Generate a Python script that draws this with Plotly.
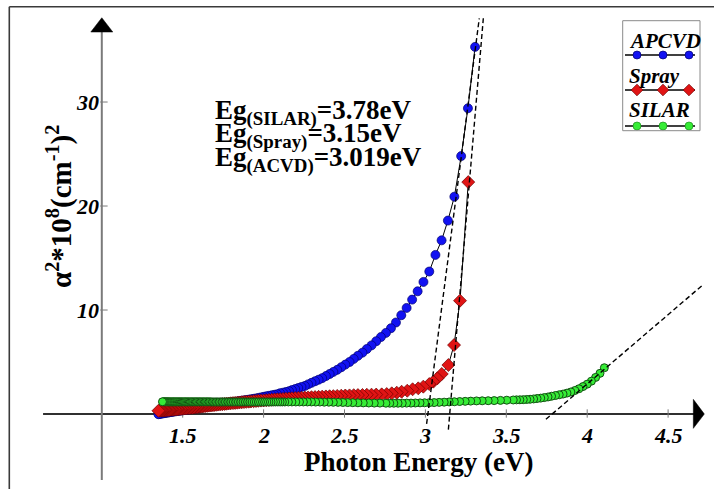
import plotly.graph_objects as go

# ---------------- data ----------------
E_apcvd = [3.307, 3.263, 3.221, 3.179, 3.139, 3.100, 3.062, 3.024, 2.988, 2.952,
           2.918, 2.884, 2.851, 2.818, 2.787, 2.756, 2.725, 2.696, 2.667, 2.638,
           2.611, 2.583, 2.557, 2.531, 2.505, 2.480, 2.455, 2.431, 2.408, 2.385,
           2.362, 2.340, 2.318, 2.296, 2.275, 2.255, 2.234, 2.214, 2.195, 2.175,
           2.157, 2.138, 2.120, 2.102, 2.084, 2.067, 2.050, 2.033, 2.016, 2.000,
           1.984, 1.968, 1.953, 1.938, 1.922, 1.908, 1.893, 1.879, 1.865, 1.851,
           1.838, 1.824, 1.811, 1.797, 1.784, 1.771, 1.759, 1.746, 1.734, 1.722,
           1.710, 1.698, 1.687, 1.675, 1.664, 1.653, 1.642, 1.631, 1.621, 1.610,
           1.600, 1.590, 1.580, 1.570, 1.560, 1.550, 1.540, 1.531, 1.521, 1.512,
           1.503, 1.494, 1.485, 1.476, 1.468, 1.459, 1.451, 1.442, 1.434, 1.426,
           1.418, 1.410, 1.402, 1.394, 1.387, 1.379, 1.371, 1.364, 1.357, 1.350]
A_apcvd = [35.3, 29.4, 24.8, 20.9, 18.6, 16.7, 15.3, 13.7, 12.7, 11.8,
           11.0, 10.2, 9.5, 8.8, 8.25, 7.8, 7.4, 7.0, 6.6, 6.25,
           5.9, 5.6, 5.3, 5.0, 4.75, 4.5, 4.25, 4.05, 3.85, 3.65,
           3.45, 3.3, 3.15, 3.0, 2.85, 2.7, 2.6, 2.5, 2.4, 2.3,
           2.2, 2.12, 2.05, 2.0, 1.9, 1.85, 1.8, 1.75, 1.7, 1.65,
           1.6, 1.55, 1.5, 1.46, 1.42, 1.38, 1.35, 1.31, 1.28, 1.24,
           1.2, 1.17, 1.13, 1.1, 1.06, 1.03, 1.0, 0.97, 0.94, 0.91,
           0.88, 0.85, 0.82, 0.79, 0.76, 0.73, 0.7, 0.67, 0.65, 0.62,
           0.6, 0.57, 0.55, 0.52, 0.5, 0.48, 0.45, 0.43, 0.41, 0.39,
           0.37, 0.35, 0.33, 0.31, 0.29, 0.27, 0.25, 0.23, 0.21, 0.19,
           0.17, 0.15, 0.13, 0.11, 0.09, 0.07, 0.05, 0.03, 0.01, -0.02]

E_spray = [3.265, 3.214, 3.177, 3.142, 3.101, 3.074, 3.049, 3.024, 2.987, 2.956,
           2.921, 2.888, 2.853, 2.823, 2.792, 2.761, 2.730, 2.696, 2.667, 2.638,
           2.611, 2.583, 2.557, 2.531, 2.505, 2.480, 2.455, 2.431, 2.408, 2.385,
           2.362, 2.340, 2.318, 2.296, 2.275, 2.255, 2.234, 2.214, 2.195, 2.175,
           2.157, 2.138, 2.120, 2.102, 2.084, 2.067, 2.050, 2.033, 2.016, 2.000,
           1.984, 1.968, 1.953, 1.938, 1.922, 1.908, 1.893, 1.879, 1.865, 1.851,
           1.838, 1.824, 1.811, 1.797, 1.784, 1.771, 1.759, 1.746, 1.734, 1.722,
           1.710, 1.698, 1.687, 1.675, 1.664, 1.653, 1.642, 1.631, 1.621, 1.610,
           1.600, 1.590, 1.580, 1.570, 1.560, 1.550, 1.540, 1.531, 1.521, 1.512,
           1.503, 1.494, 1.485, 1.476, 1.468, 1.459, 1.451, 1.442, 1.434, 1.426,
           1.418, 1.410, 1.402, 1.394, 1.387, 1.379, 1.371, 1.364, 1.357, 1.350]
A_spray = [22.3, 10.9, 6.63, 4.71, 3.85, 3.43, 3.11, 2.88, 2.63, 2.47,
           2.38, 2.24, 2.14, 2.05, 1.99, 1.92, 1.89, 1.87, 1.86, 1.85,
           1.83, 1.82, 1.81, 1.79, 1.78, 1.76, 1.74, 1.72, 1.71, 1.69,
           1.67, 1.65, 1.63, 1.62, 1.6, 1.58, 1.56, 1.55, 1.53, 1.51,
           1.49, 1.47, 1.45, 1.43, 1.41, 1.39, 1.37, 1.35, 1.33, 1.31,
           1.29, 1.27, 1.25, 1.23, 1.21, 1.19, 1.17, 1.15, 1.13, 1.11,
           1.09, 1.07, 1.05, 1.03, 1.01, 0.99, 0.97, 0.95, 0.93, 0.91,
           0.89, 0.87, 0.85, 0.83, 0.81, 0.79, 0.77, 0.75, 0.73, 0.71,
           0.69, 0.67, 0.65, 0.63, 0.61, 0.6, 0.58, 0.57, 0.55, 0.54,
           0.52, 0.51, 0.5, 0.48, 0.47, 0.46, 0.45, 0.43, 0.42, 0.41,
           0.4, 0.39, 0.38, 0.37, 0.36, 0.35, 0.34, 0.33, 0.32, 0.31]

E_silar = [4.106, 4.079, 4.052, 4.026, 4.000, 3.974, 3.949, 3.924, 3.899, 3.875,
           3.851, 3.827, 3.804, 3.780, 3.758, 3.735, 3.713, 3.690, 3.669, 3.647,
           3.626, 3.605, 3.584, 3.563, 3.543, 3.503, 3.464, 3.425, 3.388, 3.351,
           3.316, 3.280, 3.246, 3.212, 3.179, 3.147, 3.116, 3.085, 3.054, 3.024,
           2.995, 2.967, 2.938, 2.911, 2.884, 2.857, 2.831, 2.805, 2.780, 2.756,
           2.719, 2.684, 2.650, 2.616, 2.583, 2.551, 2.520, 2.490, 2.460, 2.431,
           2.403, 2.375, 2.348, 2.322, 2.296, 2.271, 2.246, 2.222, 2.199, 2.175,
           2.153, 2.131, 2.116,
           2.102, 2.088, 2.074, 2.060, 2.046, 2.033, 2.020, 2.006, 1.994, 1.981,
           1.968, 1.956, 1.944, 1.931, 1.920, 1.908, 1.896, 1.884, 1.873, 1.862,
           1.851, 1.840, 1.829, 1.818, 1.808, 1.797, 1.787, 1.777, 1.766, 1.756,
           1.746, 1.737, 1.727, 1.717, 1.708, 1.699, 1.689, 1.680, 1.671, 1.662,
           1.653, 1.645, 1.636, 1.627, 1.619, 1.610, 1.602, 1.594, 1.586, 1.578,
           1.570, 1.562, 1.554, 1.546, 1.538, 1.531, 1.523, 1.516, 1.509, 1.501,
           1.494, 1.487, 1.480, 1.473, 1.466, 1.459, 1.452, 1.445, 1.439, 1.432,
           1.425, 1.419, 1.412, 1.406, 1.400, 1.393, 1.387, 1.381, 1.375]
A_silar = [4.45, 3.91, 3.52, 3.16, 2.87, 2.64, 2.43, 2.26, 2.12, 2.01,
           1.92, 1.85, 1.78, 1.71, 1.64, 1.58, 1.53, 1.49, 1.45, 1.42,
           1.4, 1.38, 1.37, 1.36, 1.35, 1.33, 1.31, 1.29, 1.28, 1.27,
           1.26, 1.24, 1.22, 1.2, 1.18, 1.16, 1.14, 1.12, 1.1, 1.09,
           1.08, 1.07, 1.06, 1.05, 1.05, 1.04, 1.04, 1.04, 1.04, 1.04,
           1.05, 1.05, 1.06, 1.07, 1.08, 1.09, 1.1, 1.11, 1.12, 1.13,
           1.14, 1.14, 1.15, 1.15, 1.16, 1.16, 1.16, 1.16, 1.16, 1.16,
           1.16, 1.16, 1.16,
           1.16, 1.16, 1.16, 1.16, 1.16, 1.16, 1.16, 1.16, 1.16, 1.16,
           1.16, 1.16, 1.16, 1.16, 1.16, 1.16, 1.16, 1.16, 1.16, 1.16,
           1.16, 1.16, 1.16, 1.16, 1.16, 1.16, 1.16, 1.16, 1.16, 1.16,
           1.16, 1.16, 1.16, 1.16, 1.16, 1.16, 1.16, 1.16, 1.17, 1.17,
           1.17, 1.17, 1.17, 1.17, 1.17, 1.17, 1.17, 1.17, 1.17, 1.17,
           1.17, 1.17, 1.17, 1.17, 1.17, 1.17, 1.17, 1.17, 1.17, 1.17,
           1.17, 1.17, 1.17, 1.17, 1.17, 1.17, 1.17, 1.17, 1.17, 1.17,
           1.17, 1.17, 1.17, 1.18, 1.18, 1.18, 1.18, 1.18, 1.18]

# tangent (extrapolation) lines
TAN_APCVD_X = [3.0075, 3.333]
TAN_APCVD_Y = [-0.95, 38.05]
TAN_SPRAY_X = [3.142, 3.358]
TAN_SPRAY_Y = [-1.5, 38.05]
TAN_SILAR_X = [3.745, 4.721]
TAN_SILAR_Y = [-0.51, 12.5]

X_TICKS = [1.5, 2, 2.5, 3, 3.5, 4, 4.5]
X_TICK_LABELS = ["1.5", "2", "2.5", "3", "3.5", "4", "4.5"]
Y_TICKS = [10, 20, 30]
Y_TICK_LABELS = ["10", "20", "30"]

SERIES_NAMES = ["APCVD", "Spray", "SILAR"]
EG_LINES = [("SILAR", "3.78"), ("Spray", "3.15"), ("ACVD", "3.019")]

X_ORIGIN = 1.0
Y_ORIGIN = 0.0

# ---------------- styling ----------------
FONT = "Liberation Serif"
BLUE, BLUE_EDGE = "#1212f2", "#000070"
RED, RED_EDGE = "#e01414", "#6e0000"
GREEN, GREEN_EDGE = "#36ec36", "#125012"
W, H = 714, 489
XR = [0.3708, 4.7837]
YR = [-7.21, 39.81]

fig = go.Figure()

def add_series(x, y, symbol, size, color, edge, ew):
    fig.add_trace(go.Scatter(
        x=x, y=y, mode="lines+markers", showlegend=False, hoverinfo="skip",
        line=dict(color="black", width=1),
        marker=dict(symbol=symbol, size=size, color=color,
                    line=dict(color=edge, width=ew))))

add_series(E_apcvd, A_apcvd, "circle", 9, BLUE, BLUE_EDGE, 0.7)
add_series(E_spray, A_spray, "diamond", 10, RED, RED_EDGE, 0.7)
add_series(E_silar, A_silar, "circle", 8, GREEN, GREEN_EDGE, 1.0)

for tx, ty in [(TAN_APCVD_X, TAN_APCVD_Y), (TAN_SPRAY_X, TAN_SPRAY_Y),
               (TAN_SILAR_X, TAN_SILAR_Y)]:
    fig.add_trace(go.Scatter(x=tx, y=ty, mode="lines", showlegend=False,
                             hoverinfo="skip",
                             line=dict(color="black", width=1.4, dash="5px,3px")))

# ---------------- legend (drawn on a pixel overlay axis) ----------------
LEG_ROWS = [55, 90, 126]
LEG_TEXT_Y = [41, 76, 110]
leg_styles = [("circle", 8, BLUE, BLUE_EDGE), ("diamond", 9, RED, RED_EDGE),
              ("circle", 8, GREEN, "#1c8c1c")]
for name, yrow, (sym, sz, col, edge) in zip(SERIES_NAMES, LEG_ROWS, leg_styles):
    fig.add_trace(go.Scatter(x=[625, 695], y=[yrow, yrow], xaxis="x2", yaxis="y2",
                             mode="lines", line=dict(color="black", width=1.5),
                             showlegend=False, hoverinfo="skip"))
    fig.add_trace(go.Scatter(x=[637, 663, 689], y=[yrow] * 3, xaxis="x2", yaxis="y2",
                             mode="markers", showlegend=False, hoverinfo="skip",
                             marker=dict(symbol=sym, size=sz, color=col,
                                         line=dict(color=edge, width=0.7))))

shapes = []
AX_DARK = "#303030"
AX_GRAY = "#7a7a7a"
# x axis line + arrow
shapes.append(dict(type="line", xref="x", yref="y", x0=0.637, x1=4.66,
                   y0=Y_ORIGIN, y1=Y_ORIGIN, line=dict(color=AX_DARK, width=2),
                   layer="below"))
shapes.append(dict(type="path", xref="x", yref="y",
                   path="M 4.656 -1.38 L 4.724 0 L 4.656 1.41 Z",
                   fillcolor="black", line=dict(color="black", width=0.5)))
# y axis line + arrow
shapes.append(dict(type="line", xref="x", yref="y", x0=X_ORIGIN, x1=X_ORIGIN,
                   y0=-6.35, y1=36.8, line=dict(color=AX_GRAY, width=2),
                   layer="below"))
shapes.append(dict(type="path", xref="x", yref="y",
                   path="M 0.932 36.73 L 1.0 38.1 L 1.068 36.73 Z",
                   fillcolor="black", line=dict(color="black", width=0.5)))
for t in X_TICKS:
    shapes.append(dict(type="line", xref="x", yref="y", x0=t, x1=t, y0=-0.35, y1=0.45,
                       line=dict(color=AX_GRAY, width=1), layer="below"))
for t in Y_TICKS:
    shapes.append(dict(type="line", xref="x", yref="y", x0=0.99, x1=1.036, y0=t, y1=t,
                       line=dict(color=AX_GRAY, width=1), layer="below"))
# frame (pixel overlay)
shapes.append(dict(type="line", xref="x2", yref="y2", x0=9.3, x1=714, y0=6.7, y1=6.7,
                   line=dict(color="#3a3a3a", width=1.6)))
shapes.append(dict(type="line", xref="x2", yref="y2", x0=9.3, x1=9.3, y0=6.7, y1=489,
                   line=dict(color="#3a3a3a", width=1.6)))
# legend box
shapes.append(dict(type="rect", xref="x2", yref="y2", x0=622.7, x1=700, y0=20.7, y1=130.7,
                   line=dict(color="#8a8a8a", width=1), fillcolor="rgba(0,0,0,0)"))

BI = dict(family=FONT, color="black", weight="bold", style="italic")
B = dict(family=FONT, color="black", weight="bold")

ann = []
for t, lab in zip(X_TICKS, X_TICK_LABELS):
    ann.append(dict(x=t, y=Y_ORIGIN, xref="x", yref="y", text=lab,
                    showarrow=False, xanchor="center", yanchor="middle", yshift=-21,
                    font=dict(size=22, **BI)))
for t, lab in zip(Y_TICKS, Y_TICK_LABELS):
    ann.append(dict(x=X_ORIGIN, y=t, xref="x", yref="y", text=lab,
                    showarrow=False, xanchor="right", yanchor="middle", xshift=-1,
                    font=dict(size=22, **BI)))
# axis titles
ann.append(dict(x=418, y=462, xref="x2", yref="y2", text="Photon Energy (eV)",
                showarrow=False, xanchor="center", yanchor="middle",
                font=dict(size=27, **B)))
ann.append(dict(x=59, y=207, xref="x2", yref="y2", textangle=-90,
                text="α<sup>2</sup>*10<sup>8</sup>(cm<sup>-1</sup>)<sup>2</sup>",
                showarrow=False, xanchor="center", yanchor="middle",
                font=dict(size=29, **B)))
# Eg annotations
for (nm, val), yy in zip(EG_LINES, [112, 135, 159]):
    ann.append(dict(x=213, y=yy, xref="x2", yref="y2",
                    text="Eg<sub>(%s)</sub>=%seV" % (nm, val),
                    showarrow=False, xanchor="left", yanchor="middle",
                    font=dict(size=27, **B)))
# legend texts
for name, yy in zip(SERIES_NAMES, LEG_TEXT_Y):
    ann.append(dict(x=627, y=yy, xref="x2", yref="y2", text=name,
                    showarrow=False, xanchor="left", yanchor="middle",
                    font=dict(size=21, **BI)))

fig.update_layout(
    width=W, height=H, autosize=False,
    margin=dict(l=0, r=0, t=0, b=0, pad=0),
    paper_bgcolor="white", plot_bgcolor="white",
    xaxis=dict(range=XR, visible=False, fixedrange=True),
    yaxis=dict(range=YR, visible=False, fixedrange=True),
    xaxis2=dict(range=[0, W], visible=False, overlaying="x", anchor="y2", fixedrange=True),
    yaxis2=dict(range=[H, 0], visible=False, overlaying="y", anchor="x2", fixedrange=True),
    shapes=shapes, annotations=ann, showlegend=False,
)

fig.write_html("out.html", config={"displayModeBar": False})
